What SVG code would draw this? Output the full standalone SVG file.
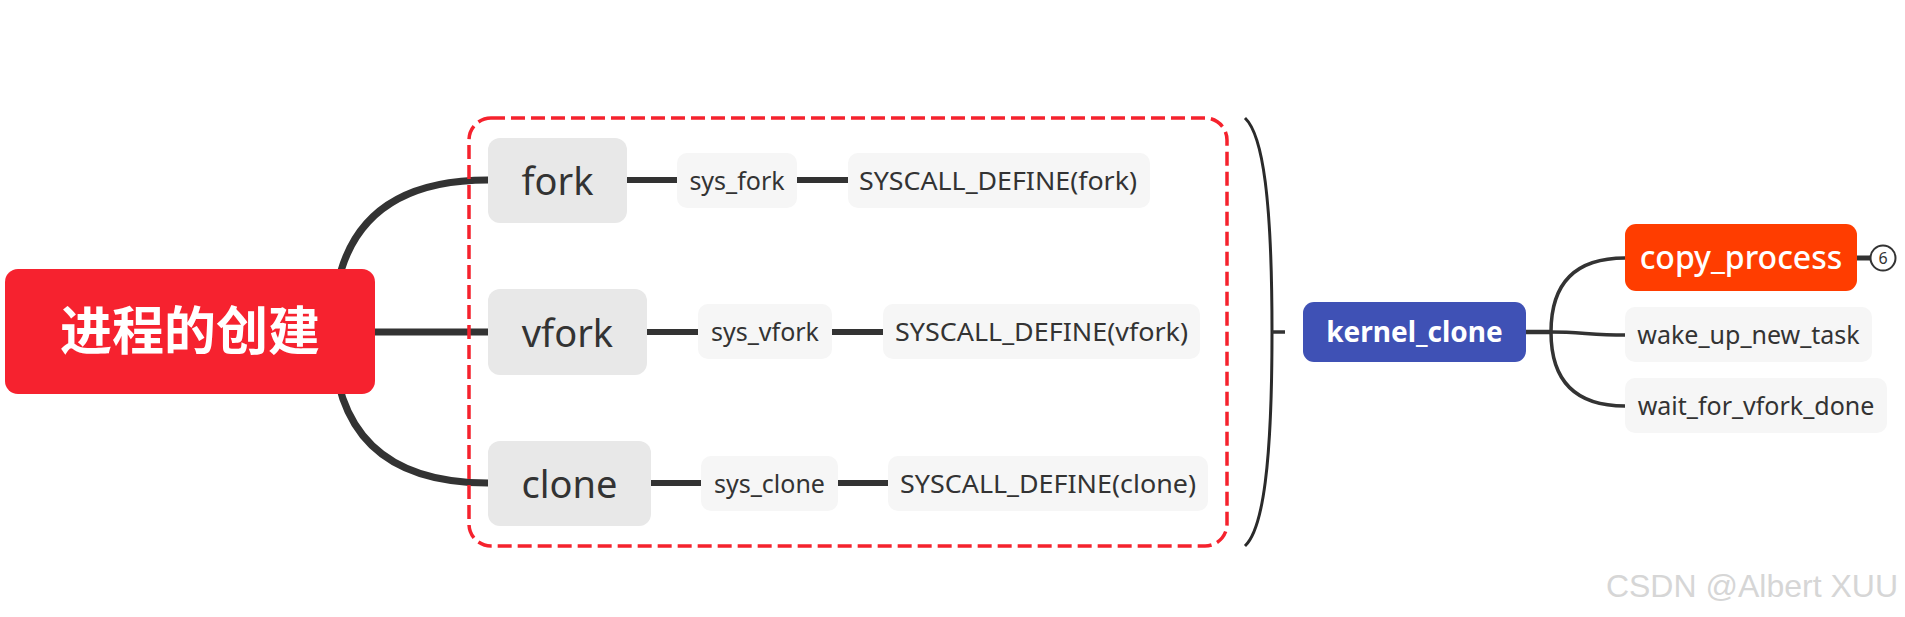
<svg xmlns="http://www.w3.org/2000/svg" width="1905" height="617" viewBox="0 0 1905 617">
<style>
.t{font-family:"Noto Sans","Open Sans","Noto Sans CJK SC",sans-serif;fill:#333333;text-anchor:middle}
.big{font-size:38px}
.mid{font-size:25px}
.gray{fill:#E8E8E8}
.light{fill:#F6F6F6}
.thick{fill:none;stroke:#333333;stroke-width:7}
.thin{fill:none;stroke:#333333;stroke-width:3.5}
</style>
<rect width="1905" height="617" fill="#FFFFFF"/>
<g id="connectors">
<path class="thick" d="M333,332 Q333,180 488,180"/>
<path class="thick" d="M374,332 H488"/>
<path class="thick" d="M333,332 Q333,483 488,483"/>
<path class="thick" d="M627,180 H677" style="stroke-width:6"/>
<path class="thick" d="M797,180 H848" style="stroke-width:6"/>
<path class="thick" d="M647,332 H698" style="stroke-width:6"/>
<path class="thick" d="M832,332 H883" style="stroke-width:6"/>
<path class="thick" d="M651,483 H701" style="stroke-width:6"/>
<path class="thick" d="M838,483 H888" style="stroke-width:6"/>
<path class="thin" d="M1245,118 C1263,135 1272,200 1272,332 C1272,464 1263,529 1245,546" style="stroke:#2a2a2a;stroke-width:3"/>
<path class="thin" d="M1272,332 H1285"/>
<path class="thin" d="M1526,332 H1551" style="stroke-width:4.5"/>
<path class="thin" d="M1551,332 Q1551,258 1625,258"/>
<path class="thin" d="M1551,332 C1580,332 1592,335 1625,335"/>
<path class="thin" d="M1551,332 Q1551,406 1625,406"/>
<path class="thick" d="M1857,258 H1871" style="stroke-width:5"/>
</g>
<g id="root">
<rect x="5" y="269" width="370" height="125" rx="13" fill="#F6222F"/>
<text x="190" y="350" style="font-family:'Noto Sans CJK SC','Noto Sans',sans-serif;font-size:52px;font-weight:bold;fill:#FFFFFF;text-anchor:middle">进程的创建</text>
</g>
<g id="fork">
<rect class="gray" x="488" y="138" width="139" height="85" rx="12"/>
<text class="t big" x="557.5" y="195">fork</text>
</g>
<g id="sys_fork">
<rect class="light" x="677" y="153" width="120" height="55" rx="10"/>
<text class="t mid" x="737" y="190">sys_fork</text>
</g>
<g id="syscall_fork">
<rect class="light" x="848" y="153" width="302" height="55" rx="10"/>
<text class="t mid" x="998" y="190" textLength="278" lengthAdjust="spacingAndGlyphs">SYSCALL_DEFINE(fork)</text>
</g>
<g id="vfork">
<rect class="gray" x="488" y="289" width="159" height="86" rx="12"/>
<text class="t big" x="567.5" y="346.5">vfork</text>
</g>
<g id="sys_vfork">
<rect class="light" x="698" y="304" width="134" height="55" rx="10"/>
<text class="t mid" x="765" y="341">sys_vfork</text>
</g>
<g id="syscall_vfork">
<rect class="light" x="883" y="304" width="317" height="55" rx="10"/>
<text class="t mid" x="1041.5" y="341" textLength="293" lengthAdjust="spacingAndGlyphs">SYSCALL_DEFINE(vfork)</text>
</g>
<g id="clone">
<rect class="gray" x="488" y="441" width="163" height="85" rx="12"/>
<text class="t big" x="569.5" y="497.5">clone</text>
</g>
<g id="sys_clone">
<rect class="light" x="701" y="456" width="137" height="55" rx="10"/>
<text class="t mid" x="769.5" y="493">sys_clone</text>
</g>
<g id="syscall_clone">
<rect class="light" x="888" y="456" width="320" height="55" rx="10"/>
<text class="t mid" x="1048" y="493" textLength="296" lengthAdjust="spacingAndGlyphs">SYSCALL_DEFINE(clone)</text>
</g>
<g id="group-boundary">
<rect x="469" y="118" width="758" height="428" rx="22" fill="none" stroke="#F5222D" stroke-width="3.5" stroke-dasharray="14 6"/>
</g>
<g id="kernel_clone">
<rect x="1303" y="302" width="223" height="60" rx="11" fill="#3F51B5"/>
<text class="t" x="1414.5" y="342" style="font-size:28px;font-weight:bold;fill:#FFFFFF">kernel_clone</text>
</g>
<g id="copy_process">
<rect x="1625" y="224" width="232" height="67" rx="11" fill="#FF3D00"/>
<text class="t" x="1741" y="269" style="font-size:32px;font-weight:500;fill:#FFFFFF">copy_process</text>
</g>
<g id="badge">
<circle cx="1883" cy="258" r="12.5" fill="#FFFFFF" stroke="#333333" stroke-width="2"/>
<text class="t" x="1883" y="264" style="font-size:16px">6</text>
</g>
<g id="wake_up_new_task">
<rect class="light" x="1625" y="307" width="247" height="55" rx="10"/>
<text class="t mid" x="1748.5" y="344">wake_up_new_task</text>
</g>
<g id="wait_for_vfork_done">
<rect class="light" x="1625" y="378" width="262" height="55" rx="10"/>
<text class="t mid" x="1756" y="415">wait_for_vfork_done</text>
</g>
<text x="1898" y="597" style="font-family:'Liberation Sans',Arial,sans-serif;font-size:32px;fill:#D6D6D6;text-anchor:end">CSDN @Albert XUU</text>
</svg>
